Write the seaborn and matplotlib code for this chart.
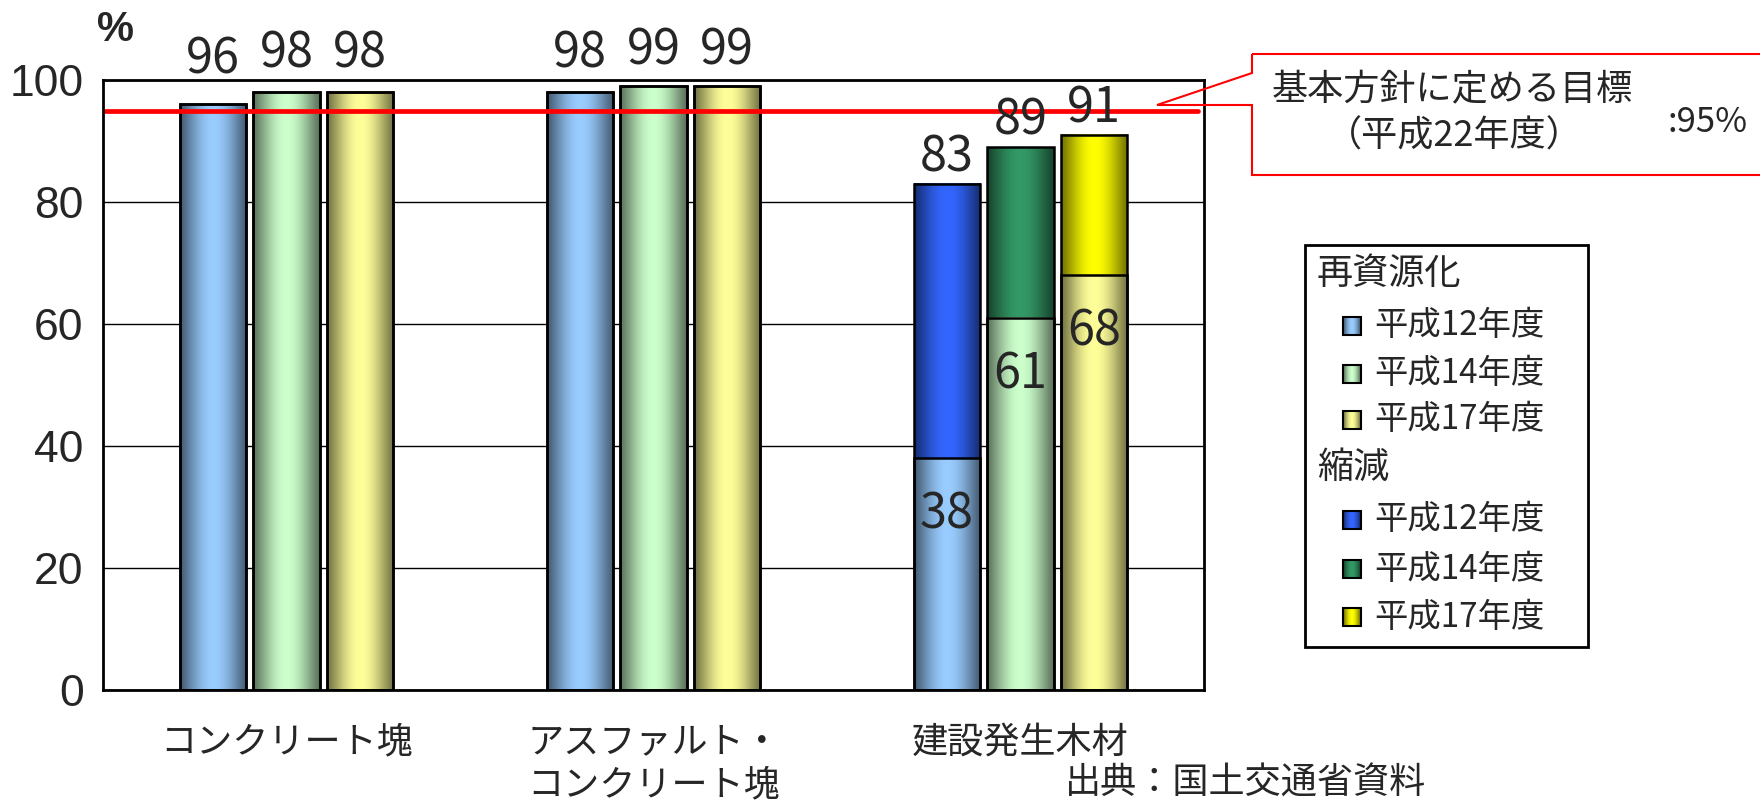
import matplotlib
matplotlib.use("Agg")
import matplotlib.pyplot as plt
from matplotlib.colors import to_rgb
from matplotlib.patches import Polygon, Rectangle
import numpy as np
import pandas as pd
import seaborn as sns

categories = ["コンクリート塊", "アスファルト・\nコンクリート塊", "建設発生木材"]
years = ["平成12年度", "平成14年度", "平成17年度"]

# 再資源化率 (%)
concrete_recycled = [96, 98, 98]
asphalt_recycled = [98, 99, 99]
wood_recycled = [38, 61, 68]
# 再資源化＋縮減 (%)
wood_total = [83, 89, 91]

target_rate = 95
recycle_colors = ["#99CCFF", "#CCFFCC", "#FFFF99"]
reduce_colors = ["#3366FF", "#339966", "#FFFF00"]

df = pd.DataFrame({
    "category": np.repeat(categories, len(years)),
    "year": years * len(categories),
    "recycled": concrete_recycled + asphalt_recycled + wood_recycled,
    "total": concrete_recycled + asphalt_recycled + wood_total,
})

sns.set_theme(style="white")
plt.rcParams["font.family"] = ["Noto Sans CJK JP", "DejaVu Sans"]
JP = ["Noto Sans CJK JP", "DejaVu Sans"]
NUM = ["Liberation Sans Narrow", "Noto Sans CJK JP", "DejaVu Sans"]


def shade(color, n=120):
    """Horizontal cylinder-like shading: dark edges, light middle."""
    t = np.linspace(0, 1, n)
    light = 0.45 + 0.55 * np.sin(np.pi * t) ** 1.2
    rgb = np.array(to_rgb(color))
    return np.clip(light[:, None] * rgb[None, :], 0, 1)[None, :, :]


fig = plt.figure(figsize=(17.6, 8.01), dpi=100)
ax = fig.add_axes([103 / 1760, 1 - 690 / 801, 1101 / 1760, 610 / 801])

common = dict(data=df, x="category", hue="year", order=categories, hue_order=years,
              width=0.6, gap=0.1, saturation=1, edgecolor="black", linewidth=1.8,
              legend=False, ax=ax)
sns.barplot(y="total", palette=reduce_colors, **common)
sns.barplot(y="recycled", palette=recycle_colors, **common)

# gradient fill laid over each bar, outline redrawn on top
for container in ax.containers:
    for bar in container:
        x0, w = bar.get_x(), bar.get_width()
        y0, h = bar.get_y(), bar.get_height()
        ax.imshow(shade(bar.get_facecolor()), extent=(x0, x0 + w, y0, y0 + h),
                  aspect="auto", interpolation="bilinear", zorder=1.5)
        bar.set_facecolor("none")
        bar.set_zorder(2)

# value labels
total_layer, recycled_layer = ax.containers[:3], ax.containers[3:]
for tc, rc in zip(total_layer, recycled_layer):
    for tbar, rbar in zip(tc, rc):
        xc = tbar.get_x() + tbar.get_width() / 2
        top = tbar.get_height()
        rec = rbar.get_height()
        y = 101 + (top - 96) / 2 if top > 92 else top + 2
        ax.text(xc, y, f"{top:.0f}", ha="center", va="baseline", fontsize=35,
                family=NUM, clip_on=False, zorder=6)
        if rec < top:
            ax.text(xc, rec - 11.5, f"{rec:.0f}", ha="center", va="baseline",
                    fontsize=35, family=NUM, zorder=6)

ax.axhline(target_rate, xmin=0, xmax=0.9946, color="#FF0000", lw=3.4, zorder=4)

ax.set_xlim(-0.5, 2.5)
ax.set_ylim(0, 100)
ax.set_yticks(range(0, 101, 20))
ax.yaxis.grid(True, color="black", lw=1.0)
ax.set_axisbelow(True)
ax.set_xlabel("")
ax.set_ylabel("")
for spine in ax.spines.values():
    spine.set_visible(True)
    spine.set_color("black")
    spine.set_linewidth(2)
    spine.set_zorder(5)
ax.tick_params(axis="y", length=0, pad=14, labelsize=32)
ax.tick_params(axis="x", length=0, pad=25, labelsize=26)
for lab in ax.get_yticklabels():
    lab.set_family("Liberation Sans")
for lab in ax.get_xticklabels():
    lab.set_family(JP)
    lab.set_linespacing(1.25)
    lab.set_multialignment("center")

# overlay in pixel coordinates for callout, legend and notes
ov = fig.add_axes([0, 0, 1, 1], zorder=5)
ov.axis("off")
ov.patch.set_alpha(0)

callout = Polygon([(1252, 54), (1775, 54), (1775, 175), (1252, 175), (1252, 105),
                   (1157, 105), (1252, 73)], closed=True, fill=False,
                  edgecolor="#FF0000", lw=1.5, clip_on=False)
ov.add_patch(callout)
ov.text(1452, 90, "基本方針に定める目標", ha="center", va="center", fontsize=26, family=JP)
ov.text(1454, 137, "（平成22年度）", ha="center", va="center", fontsize=26, family=JP)
ov.text(1708, 123, ":95%", ha="center", va="center", fontsize=25, family=JP)

ov.add_patch(Rectangle((1305, 245), 283, 402, facecolor="white", edgecolor="black",
                       lw=2, zorder=1))
legend_rows = [("再資源化", None, 274)]
legend_rows += [(y, c, yc) for y, c, yc in zip(years, recycle_colors, [326, 374, 420])]
legend_rows += [("縮減", None, 468)]
legend_rows += [(y, c, yc) for y, c, yc in zip(years, reduce_colors, [520, 569, 617])]
for label, color, yc in legend_rows:
    if color is None:
        ov.text(1317, yc, label, ha="left", va="center", fontsize=26, family=JP)
        continue
    ov.imshow(shade(color, 20), extent=(1343, 1361, yc + 9, yc - 9), aspect="auto",
              interpolation="bilinear", zorder=2)
    ov.add_patch(Rectangle((1343, yc - 9), 18, 18, fill=False, edgecolor="black",
                           lw=1.5, zorder=3))
    ov.text(1374, yc, label, ha="left", va="center", fontsize=24, family=JP)

ov.text(115, 30, "%", ha="center", va="center", fontsize=30, fontweight="bold",
        family="Liberation Sans")
ov.text(1246, 784, "出典：国土交通省資料", ha="center", va="center", fontsize=26, family=JP)
ov.set_xlim(0, 1760)
ov.set_ylim(801, 0)

fig.savefig("out.png", dpi=100)
